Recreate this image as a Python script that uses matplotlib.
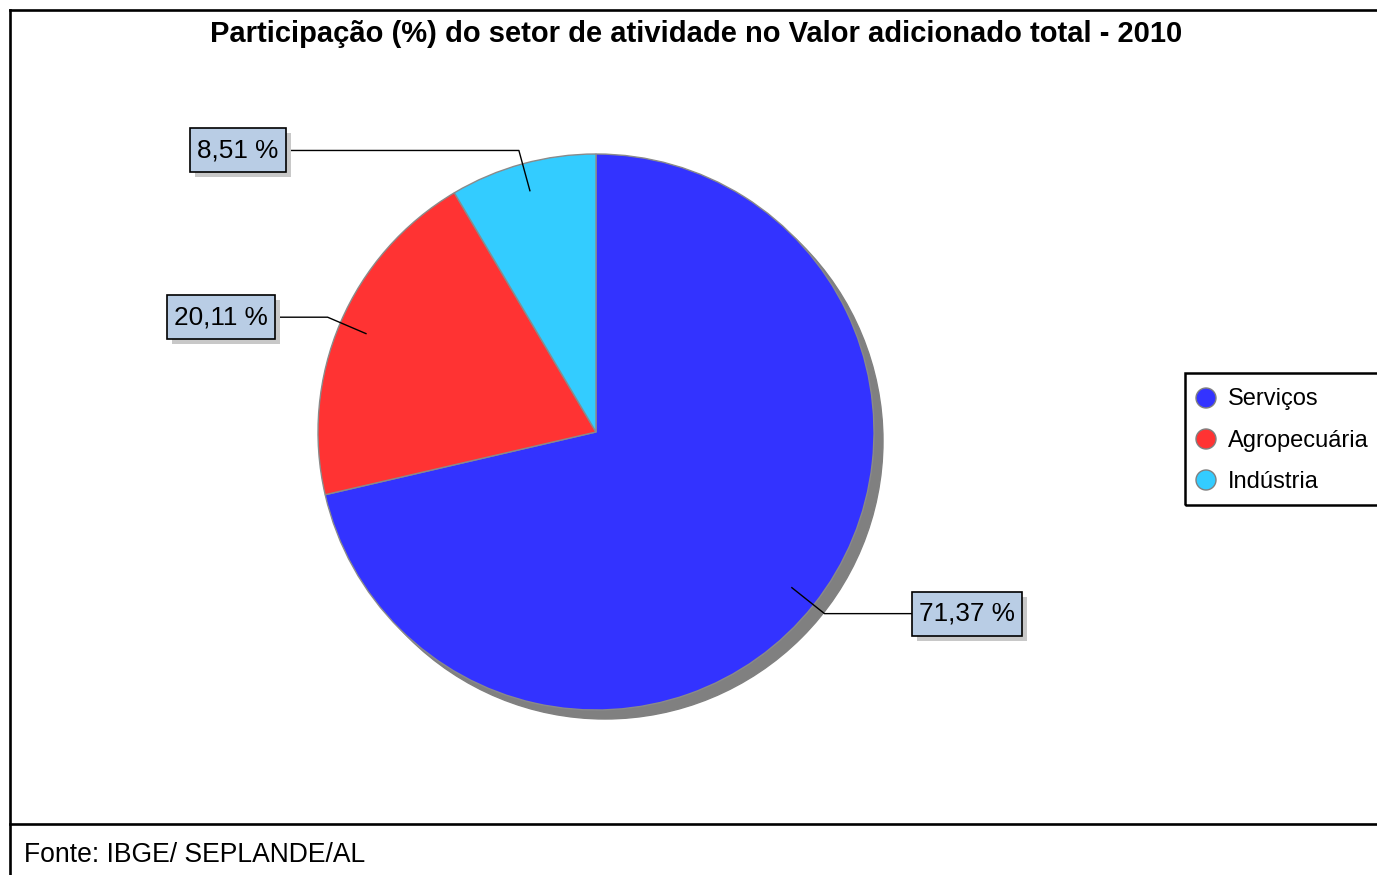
import numpy as np
import matplotlib.pyplot as plt
from matplotlib.patches import Rectangle, Circle

plt.rcParams['font.family'] = ['Liberation Sans', 'DejaVu Sans']

# dados
setores = ["Serviços", "Agropecuária", "Indústria"]
participacao = [71.37, 20.11, 8.51]
cores = ["#3333FF", "#FF3333", "#33CCFF"]
rotulos = ["71,37 %", "20,11 %", "8,51 %"]
titulo = "Participação (%) do setor de atividade no Valor adicionado total - 2010"
fonte = "Fonte: IBGE/ SEPLANDE/AL"

L, A = 1377, 875

def py(y):
    # converte y em pixels (de cima) para y do eixo
    return A - y

fig = plt.figure(figsize=(L / 100, A / 100), dpi=100)
ax = fig.add_axes([0, 0, 1, 1])

centro = (596, py(432))
raio = 278

# sombra da pizza
ax.add_patch(Circle((centro[0] + 9, centro[1] - 9), raio, color="#808080", zorder=1))

fatias, _ = ax.pie(participacao, colors=cores, startangle=90, counterclock=False,
                   center=centro, radius=raio,
                   wedgeprops=dict(edgecolor="#8a8a8a", linewidth=1, zorder=2))

ax.set_xlim(0, L)
ax.set_ylim(0, A)
ax.set_aspect("auto")
ax.axis("off")

# rotulos com linhas de chamada
posicao_x = [967, 221, 238]
textos = []
for fatia, rotulo, xr in zip(fatias, rotulos, posicao_x):
    ang = np.deg2rad((fatia.theta1 + fatia.theta2) / 2)
    p1 = (centro[0] + 0.9 * raio * np.cos(ang), centro[1] + 0.9 * raio * np.sin(ang))
    p2 = (centro[0] + 1.05 * raio * np.cos(ang), centro[1] + 1.05 * raio * np.sin(ang))
    ax.plot([p1[0], p2[0], xr], [p1[1], p2[1], p2[1]], color="black", lw=1, zorder=3)
    t = ax.text(xr, p2[1], rotulo, fontsize=18.8, color="black", ha="center", va="center",
                zorder=6)
    textos.append((t, p2[1]))

# caixas e sombras dos rotulos (tamanho a partir do texto)
fig.canvas.draw()
inv = ax.transData.inverted()
for t, yc in textos:
    ext = t.get_window_extent()
    (x0, _), (x1, _) = inv.transform([[ext.x0, ext.y0], [ext.x1, ext.y1]])
    x0, x1 = x0 - 7, x1 + 7
    y0, y1 = yc - 22, yc + 22
    ax.add_patch(Rectangle((x0 + 5, y0 - 5), x1 - x0, y1 - y0, fc="#C8C8C8", ec="none", zorder=4))
    ax.add_patch(Rectangle((x0, y0), x1 - x0, y1 - y0, fc="#B9CDE5", ec="black", lw=1.2, zorder=5))

# titulo
ax.text(696, py(34), titulo, fontsize=21, fontweight="bold", ha="center", va="center")

# legenda
ax.add_patch(Rectangle((1185, py(505)), 220, 132, fill=False, ec="black", lw=1.8, zorder=3))
for i, (setor, cor) in enumerate(zip(setores, cores)):
    yl = py(398 + 41 * i)
    ax.add_patch(Circle((1206, yl), 10, fc=cor, ec="#808080", lw=1, zorder=4))
    ax.text(1228, yl - 1.5, setor, fontsize=17, ha="left", va="center", zorder=4)

# molduras
ax.plot([10, 10], [py(875), py(10)], color="black", lw=1.9)
ax.plot([10, L], [py(10), py(10)], color="black", lw=1.9)
ax.plot([10, L], [py(824), py(824)], color="black", lw=1.9)

ax.text(24, py(855), fonte, fontsize=19.1, ha="left", va="center")

fig.savefig("out.png", dpi=100)
